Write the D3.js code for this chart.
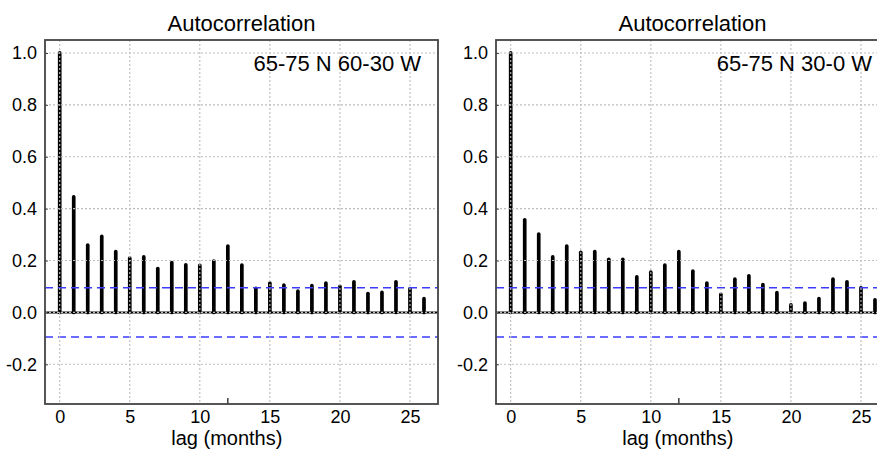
<!DOCTYPE html>
<html>
<head>
<meta charset="utf-8">
<script src="https://cdn.jsdelivr.net/npm/d3@7"></script>
<style>
  body { margin: 0; background: #fff; }
  svg { display: block; font-family: "Liberation Sans", Arial, sans-serif; }
</style>
</head>
<body>
<div id="chart"></div>
<script>
// ACF values, lags 0..26
const lags = d3.range(0, 27);
const acfWest = [1.0, 0.445, 0.259, 0.293, 0.234, 0.209, 0.214, 0.169, 0.192, 0.183, 0.181, 0.198, 0.256, 0.182,
                 0.093, 0.113, 0.105, 0.082, 0.103, 0.113, 0.100, 0.118, 0.073, 0.077, 0.118, 0.092, 0.053];
const acfEast = [1.0, 0.357, 0.302, 0.214, 0.256, 0.232, 0.234, 0.205, 0.205, 0.137, 0.155, 0.182, 0.234, 0.159,
                 0.113, 0.070, 0.128, 0.141, 0.107, 0.076, 0.029, 0.036, 0.053, 0.128, 0.118, 0.095, 0.048];
const panelLabels = ["65-75 N 60-30 W", "65-75 N 30-0 W"];
const confLimit = 0.095;
const xTicks = [0, 5, 10, 15, 20, 25];
const yTicks = [-0.2, 0.0, 0.2, 0.4, 0.6, 0.8, 1.0];

const width = 877;
const height = 449;

const svg = d3.select("#chart")
    .append("svg")
    .attr("width", width)
    .attr("height", height);

// plain hyphen for negatives, like the original
const fmt = d => d3.format(".1f")(d).replace("\u2212", "-");

// one ACF panel
function drawPanel(left, values, label) {
    const top = 40, bottom = 404, w = 393;

    const x = d3.scaleLinear().domain([-1.05, 27]).range([left, left + w]);
    const y = d3.scaleLinear().domain([-0.353, 1.05]).range([bottom, top]);

    const g = svg.append("g");

    // title
    g.append("text")
        .attr("x", left + w / 2)
        .attr("y", 31)
        .attr("text-anchor", "middle")
        .style("font-size", "22px")
        .text("Autocorrelation");

    // bars
    g.selectAll(".bar")
        .data(lags)
        .enter().append("line")
        .attr("x1", d => x(d))
        .attr("x2", d => x(d))
        .attr("y1", y(0))
        .attr("y2", d => y(values[d]))
        .attr("stroke", "#000")
        .attr("stroke-width", 3.7)
        .attr("stroke-linecap", "round");

    // zero line
    g.append("line")
        .attr("x1", left).attr("x2", left + w)
        .attr("y1", y(0)).attr("y2", y(0))
        .attr("stroke", "#000")
        .attr("stroke-width", 2);

    // confidence limits
    [confLimit, -confLimit].forEach(c => {
        g.append("line")
            .attr("x1", left).attr("x2", left + w)
            .attr("y1", y(c)).attr("y2", y(c))
            .attr("stroke", "#3b3bff")
            .attr("stroke-width", 1.4)
            .attr("stroke-dasharray", "8,5");
    });

    // grid on top of the bars
    const grid = g.append("g")
        .attr("stroke", "#bdbdbd")
        .attr("stroke-width", 1.1)
        .attr("stroke-dasharray", "2,2");
    grid.selectAll(".vg")
        .data(xTicks)
        .enter().append("line")
        .attr("x1", d => x(d)).attr("x2", d => x(d))
        .attr("y1", top).attr("y2", bottom);
    grid.selectAll(".hg")
        .data(yTicks)
        .enter().append("line")
        .attr("x1", left).attr("x2", left + w)
        .attr("y1", d => y(d)).attr("y2", d => y(d));

    // panel label
    g.append("text")
        .attr("x", left + w - 17)
        .attr("y", 70.5)
        .attr("text-anchor", "end")
        .style("font-size", "22px")
        .text(label);

    // y axis: short inward ticks, labels left of the frame
    const yAxis = d3.axisLeft(y)
        .tickValues(yTicks)
        .tickFormat(fmt)
        .tickSize(-3)
        .tickPadding(8);
    g.append("g")
        .attr("transform", `translate(${left},0)`)
        .call(yAxis)
        .call(a => a.select(".domain").remove())
        .call(a => a.selectAll("line").attr("stroke", "#444"))
        .call(a => a.selectAll("text")
            .style("font-size", "18px")
            .style("font-family", "Liberation Sans, Arial, sans-serif")
            .attr("fill", "#000"));

    // x axis: labels only
    const xAxis = d3.axisBottom(x)
        .tickValues(xTicks)
        .tickSize(0)
        .tickPadding(6);
    g.append("g")
        .attr("transform", `translate(0,${bottom})`)
        .call(xAxis)
        .call(a => a.select(".domain").remove())
        .call(a => a.selectAll("text")
            .style("font-size", "18px")
            .style("font-family", "Liberation Sans, Arial, sans-serif")
            .attr("fill", "#000"));

    // single tick at lag 12
    g.append("line")
        .attr("x1", x(12)).attr("x2", x(12))
        .attr("y1", bottom).attr("y2", bottom - 6)
        .attr("stroke", "#222")
        .attr("stroke-width", 1.3);

    // frame
    g.append("rect")
        .attr("x", left).attr("y", top)
        .attr("width", w).attr("height", bottom - top)
        .attr("fill", "none")
        .attr("stroke", "#444")
        .attr("stroke-width", 1.8);

    // x label
    g.append("text")
        .attr("x", x(12) - 1)
        .attr("y", 445)
        .attr("text-anchor", "middle")
        .style("font-size", "20px")
        .text("lag (months)");
}

drawPanel(45, acfWest, panelLabels[0]);
drawPanel(496, acfEast, panelLabels[1]);
</script>
</body>
</html>
